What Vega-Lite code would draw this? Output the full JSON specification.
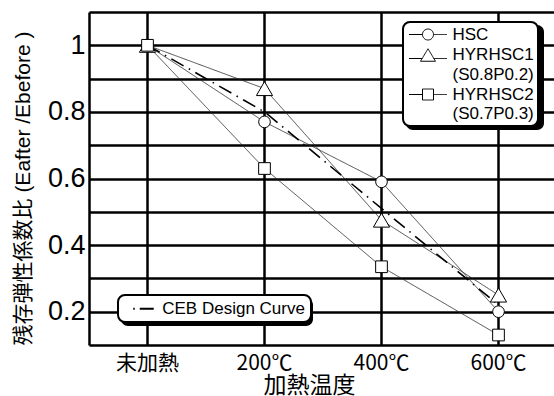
{
  "$schema": "https://vega.github.io/schema/vega-lite/v6.json",
  "width": 468,
  "height": 333,
  "autosize": {"type": "none"},
  "padding": {"left": 89, "top": 12, "right": -3, "bottom": 51},
  "background": "white",
  "config": {
    "view": {"stroke": null},
    "font": "Liberation Sans",
    "axis": {
      "grid": true,
      "gridColor": "black",
      "gridWidth": 2.5,
      "gridOpacity": 1,
      "domainColor": "black",
      "domainWidth": 2.5,
      "ticks": false,
      "labelColor": "black",
      "titleColor": "black",
      "titleFontWeight": "normal",
      "labelFlush": false,
      "labelOverlap": false
    }
  },
  "datasets": {
    "series": [
      {"temp": "未加熱", "series": "HSC", "ratio": 1},
      {"temp": "200℃", "series": "HSC", "ratio": 0.77},
      {"temp": "400℃", "series": "HSC", "ratio": 0.59},
      {"temp": "600℃", "series": "HSC", "ratio": 0.2},
      {"temp": "未加熱", "series": "HYRHSC1 (S0.8P0.2)", "ratio": 1},
      {"temp": "200℃", "series": "HYRHSC1 (S0.8P0.2)", "ratio": 0.87},
      {"temp": "400℃", "series": "HYRHSC1 (S0.8P0.2)", "ratio": 0.475},
      {"temp": "600℃", "series": "HYRHSC1 (S0.8P0.2)", "ratio": 0.25},
      {"temp": "未加熱", "series": "HYRHSC2 (S0.7P0.3)", "ratio": 1},
      {"temp": "200℃", "series": "HYRHSC2 (S0.7P0.3)", "ratio": 0.63},
      {"temp": "400℃", "series": "HYRHSC2 (S0.7P0.3)", "ratio": 0.335},
      {"temp": "600℃", "series": "HYRHSC2 (S0.7P0.3)", "ratio": 0.13}
    ],
    "ceb": [
      {"temp": "未加熱", "curve": "CEB Design Curve", "ratio": 1},
      {"temp": "200℃", "curve": "CEB Design Curve", "ratio": 0.8},
      {"temp": "400℃", "curve": "CEB Design Curve", "ratio": 0.51},
      {"temp": "600℃", "curve": "CEB Design Curve", "ratio": 0.22}
    ]
  },
  "encoding": {
    "y": {
      "field": "ratio",
      "type": "quantitative",
      "scale": {"domain": [0.1, 1.1], "nice": false, "zero": false},
      "axis": {
        "orient": "left",
        "values": [0.2, 0.3, 0.4, 0.5, 0.6, 0.7, 0.8, 0.9, 1.0],
        "domain": true,
        "labelExpr": "round(datum.value * 10) % 2 == 0 ? format(datum.value, '~g') : ''",
        "labelFont": "Liberation Sans",
        "labelFontSize": 27,
        "labelPadding": 4,
        "title": "残存弾性係数比 (Eafter /Ebefore )",
        "titleFont": "Liberation Sans, Noto Sans CJK JP",
        "titleFontSize": 21,
        "titleAngle": -90,
        "titleAlign": "center",
        "titleBaseline": "middle",
        "titleX": -66,
        "titleY": 176
      }
    }
  },
  "layer": [
    {
      "data": {"name": "series"},
      "mark": {"type": "line", "strokeWidth": 0.8},
      "encoding": {
        "x": {
          "field": "temp",
          "type": "ordinal",
          "scale": {"type": "band", "domain": ["未加熱", "200℃", "400℃", "600℃"], "paddingInner": 0, "paddingOuter": 0},
          "axis": {
            "orient": "bottom",
            "bandPosition": 0.5,
            "domain": true,
            "labelAngle": 0,
            "labelFont": "Noto Sans CJK JP",
            "labelFontSize": 21,
            "labelPadding": 7,
            "labelBaseline": "top",
            "title": "加熱温度",
            "titleFont": "Noto Sans CJK JP",
            "titleFontSize": 23,
            "titleBaseline": "top",
            "titleX": 220,
            "titleY": 29
          }
        },
        "order": {"value": null},
        "color": {
          "field": "series",
          "type": "nominal",
          "scale": {"domain": ["HSC", "HYRHSC1 (S0.8P0.2)", "HYRHSC2 (S0.7P0.3)"], "range": ["#222222", "#222222", "#222222"]},
          "legend": {
            "orient": "none",
            "legendX": 317,
            "legendY": 13,
            "values": ["HSC"],
            "title": null,
            "padding": 0,
            "labelExpr": "''",
            "labelFontSize": 1,
            "labelOffset": 0,
            "symbolOffset": 0,
            "symbolSize": 4,
            "symbolType": "M6,-1H130A7,7,0,0,1,137,6V97A7,7,0,0,1,130,104H6A7,7,0,0,1,-1,97V6A7,7,0,0,1,6,-1Z",
            "symbolStrokeWidth": 0,
            "symbolOpacity": 1,
            "encode": {"symbols": {"update": {"fill": {"value": "black"}, "stroke": {"value": "black"}, "strokeWidth": {"value": 0}, "strokeDash": {"value": [1, 0]}}}}
          }
        },
        "strokeDash": {
          "field": "series",
          "type": "nominal",
          "scale": {"range": [[1, 0], [1, 0], [1, 0]]},
          "legend": {
            "orient": "none",
            "legendX": 314,
            "legendY": 10,
            "title": null,
            "padding": 4,
            "cornerRadius": 7,
            "fillColor": "white",
            "strokeColor": "black",
            "labelFont": "Liberation Sans",
            "labelFontSize": 17,
            "labelColor": "black",
            "labelExpr": "split(datum.label, ' ')",
            "labelOffset": 16,
            "symbolOffset": 12.5,
            "symbolSize": 100,
            "symbolStrokeWidth": 1,
            "symbolStrokeColor": "black",
            "symbolFillColor": "white",
            "rowPadding": 2.5,
            "encode": {
              "legend": {"update": {"strokeWidth": {"value": 2}}},
              "labels": {"update": {"lineHeight": {"value": 19.5}}},
              "symbols": {"update": {
                "fill": {"value": "white"},
                "stroke": {"value": "black"},
                "strokeWidth": {"value": 1},
                "strokeDash": {"value": [1, 0]},
                "shape": {"signal": "datum.value == 'HSC' ? 'M-3.8,0H-1.1M1.1,0H3.8M-1.1,0A1.1,1.1,0,1,0,1.1,0A1.1,1.1,0,1,0,-1.1,0Z' : datum.value == 'HYRHSC1 (S0.8P0.2)' ? 'M-3.8,0.7H-1.15M1.15,0.7H3.8M0,-1.25L1.5,1.25L-1.5,1.25Z' : 'M-3.8,0H-1.1M1.1,0H3.8M-1.1,-1.1H1.1V1.1H-1.1Z'"}
              }}
            }
          }
        }
      }
    },
    {
      "data": {"name": "ceb"},
      "mark": {"type": "line", "strokeWidth": 1.6},
      "encoding": {
        "x": {
          "field": "temp",
          "type": "ordinal",
          "axis": {"orient": "top", "bandPosition": 0, "domain": true, "labels": false, "title": null}
        },
        "order": {"value": null},
        "color": {
          "field": "curve",
          "type": "nominal",
          "scale": {"domain": ["CEB Design Curve"], "range": ["black"]},
          "legend": {
            "orient": "none",
            "legendX": 32,
            "legendY": 286,
            "title": null,
            "padding": 0,
            "labelExpr": "''",
            "labelFontSize": 1,
            "labelOffset": 0,
            "symbolOffset": 0,
            "symbolSize": 4,
            "symbolType": "M6,-1H184A7,7,0,0,1,191,6V20A7,7,0,0,1,184,27H6A7,7,0,0,1,-1,20V6A7,7,0,0,1,6,-1Z",
            "symbolStrokeWidth": 0,
            "symbolOpacity": 1,
            "encode": {"symbols": {"update": {"fill": {"value": "black"}, "stroke": {"value": "black"}, "strokeWidth": {"value": 0}, "strokeDash": {"value": [1, 0]}}}}
          }
        },
        "strokeDash": {
          "field": "curve",
          "type": "nominal",
          "scale": {"range": [[14, 6, 1.5, 6]]},
          "legend": {
            "orient": "none",
            "legendX": 29,
            "legendY": 283,
            "title": null,
            "padding": 5.25,
            "cornerRadius": 7,
            "fillColor": "white",
            "strokeColor": "black",
            "labelFont": "Liberation Sans",
            "labelFontSize": 17,
            "labelColor": "black",
            "labelOffset": 8,
            "symbolOffset": 14,
            "symbolSize": 25,
            "symbolType": "M-5,0H-4.4M-2.4,0H5",
            "symbolStrokeWidth": 2,
            "symbolStrokeColor": "black",
            "encode": {
              "legend": {"update": {"strokeWidth": {"value": 2}}},
              "symbols": {"update": {"strokeDash": {"value": [1, 0]}, "stroke": {"value": "black"}}}
            }
          }
        }
      }
    },
    {
      "data": {"name": "series"},
      "transform": [{"filter": "datum.series == 'HSC'"}],
      "mark": {"type": "point", "shape": "M-1.17,0A1.17,1.17,0,1,0,1.17,0A1.17,1.17,0,1,0,-1.17,0Z", "size": 100, "filled": true, "fill": "white", "stroke": "black", "strokeWidth": 1, "opacity": 1},
      "encoding": {"x": {"field": "temp", "type": "ordinal", "axis": null}}
    },
    {
      "data": {"name": "series"},
      "transform": [{"filter": "datum.series == 'HYRHSC1 (S0.8P0.2)'"}],
      "mark": {"type": "point", "shape": "M0,-1.4L1.62,1.4L-1.62,1.4Z", "size": 100, "filled": true, "fill": "white", "stroke": "black", "strokeWidth": 1, "opacity": 1},
      "encoding": {"x": {"field": "temp", "type": "ordinal", "axis": null}}
    },
    {
      "data": {"name": "series"},
      "transform": [{"filter": "datum.series == 'HYRHSC2 (S0.7P0.3)'"}],
      "mark": {"type": "point", "shape": "M-1.17,-1.17H1.17V1.17H-1.17Z", "size": 100, "filled": true, "fill": "white", "stroke": "black", "strokeWidth": 1, "opacity": 1},
      "encoding": {"x": {"field": "temp", "type": "ordinal", "axis": null}}
    }
  ],
  "resolve": {
    "axis": {"x": "independent"},
    "scale": {"color": "independent", "strokeDash": "independent"}
  }
}
